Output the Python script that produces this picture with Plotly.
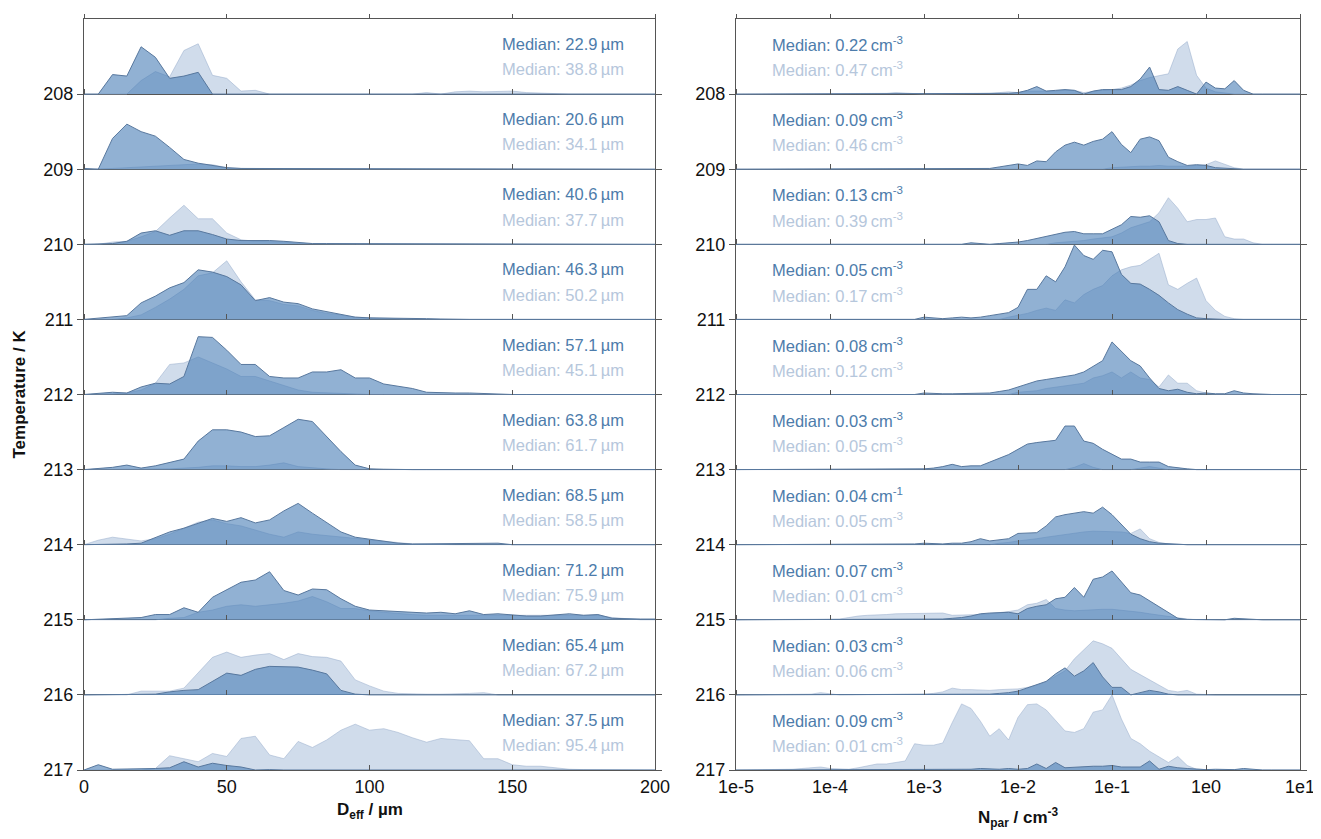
import plotly.graph_objects as go

# ---------------- data ----------------
temps = [208, 209, 210, 211, 212, 213, 214, 215, 216, 217]

D_um = [0, 5, 10, 15, 20, 25, 30, 35, 40, 45, 50, 55, 60, 65, 70, 75, 80, 85, 90, 95,
        100, 105, 110, 115, 120, 125, 130, 135, 140, 145, 150, 155, 160, 165, 170, 175,
        180, 185, 190, 195, 200]

N_exp = [-5.0, -4.9, -4.8, -4.7, -4.6, -4.5, -4.4, -4.3, -4.2, -4.1,
         -4.0, -3.9, -3.8, -3.7, -3.6, -3.5, -3.4, -3.3, -3.2, -3.1,
         -3.0, -2.9, -2.8, -2.7, -2.6, -2.5, -2.4, -2.3, -2.2, -2.1,
         -2.0, -1.9, -1.8, -1.7, -1.6, -1.5, -1.4, -1.3, -1.2, -1.1,
         -1.0, -0.9, -0.8, -0.7, -0.6, -0.5, -0.4, -0.3, -0.2, -0.1,
         0.0, 0.1, 0.2, 0.3, 0.4, 0.5, 0.6, 0.7, 0.8, 0.9, 1.0]

Z10 = [0] * 10

# Left panel (D_eff), relative density per temperature row
L208_dark = [0, 0, .26, .24, .63, .49, .21, .24, .29, 0] + Z10 + Z10 + Z10 + [0]
L208_light = [0, 0, 0, 0, .18, .30, .23, .58, .67, .25,
              .21, .04, .05, 0, 0, 0, 0, 0, 0, 0,
              .01, 0, .005, 0, .02, 0, .03, .04, .03, .03,
              .04, .02, .01, .005, 0, 0, 0, 0, 0, 0, 0]
L209_dark = [.01, 0, .41, .60, .50, .44, .29, .13, .08, .05,
             .02, .01, .01, .01, .01, 0, 0, 0, 0, 0,
             0, 0, 0, 0, 0, 0, 0, .01, 0, 0] + Z10 + [0]
L209_light = [0, 0, .01, .02, .03, .04, .05, .06, .07, .06,
              .02, .01, .005, .005, .005, 0, 0, 0, 0, 0] + Z10 + Z10 + [0]
L210_dark = [0, 0, .01, .04, .15, .18, .12, .18, .18, .13,
             .07, .05, .05, .05, .04, .02, .01, .01, .01, .005,
             .01, 0, .01, 0, 0, 0, 0, 0, 0, 0,
             0, 0, 0, 0, .01, 0, 0, 0, 0, 0, 0]
L210_light = [0, 0, .03, .04, .10, .17, .35, .52, .34, .34,
              .15, .06, .04, .04, .03, .01, .005, 0, 0, 0] + Z10 + Z10 + [0]
L211_dark = [0, .02, .03, .05, .22, .31, .42, .49, .66, .63,
             .57, .46, .25, .29, .23, .21, .14, .10, .07, .03,
             .02, .02, .02, .01, .01, .005, 0, 0, 0, 0] + Z10 + [0]
L211_light = [0, 0, 0, .02, .06, .16, .27, .40, .58, .62,
              .78, .50, .26, .25, .20, .18, .12, .08, .06, .03,
              .02, .01, .01, 0, 0, 0, 0, 0, 0, 0] + Z10 + [0]
L212_dark = [0, .02, .03, .02, .10, .15, .14, .24, .77, .76,
             .59, .40, .40, .24, .22, .22, .30, .30, .33, .22,
             .22, .14, .11, .08, .03, .02, .02, .02, .01, 0] + Z10 + [0]
L212_light = [0, 0, .01, .02, .06, .15, .40, .42, .50, .42,
              .34, .24, .24, .18, .12, .06, .03, .02, .01, 0] + Z10 + Z10 + [0]
L213_dark = [0, .01, .03, .06, .02, .05, .09, .14, .38, .53,
             .53, .50, .44, .45, .56, .67, .64, .44, .24, .06,
             .01, .005, 0, 0, 0, 0, 0, 0, 0, 0] + Z10 + [0]
L213_light = [0, 0, 0, 0, 0, 0, .01, .02, .03, .05,
              .05, .04, .04, .06, .09, .04, .02, .01, 0, 0] + Z10 + Z10 + [0]
L214_dark = [0, 0, 0, .01, .02, .10, .17, .22, .29, .35,
             .31, .36, .29, .33, .45, .55, .42, .30, .17, .10,
             .07, .05, .02, .01, .01, .01, .01, .01, .015, .02] + Z10 + [0]
L214_light = [0, .06, .10, .07, .05, .08, .14, .22, .30, .33,
              .28, .25, .19, .14, .10, .17, .14, .12, .10, .08,
              .06, .04, .02, .01, .005, 0, 0, 0, 0, 0] + Z10 + [0]
L215_dark = [0, .01, .02, .03, .03, .07, .07, .16, .10, .30,
             .40, .50, .53, .64, .39, .33, .41, .40, .28, .18,
             .13, .12, .11, .10, .09, .10, .08, .12, .07, .08,
             .06, .05, .05, .06, .08, .06, .07, .02, .01, .01, .01]
L215_light = [0, 0, 0, 0, 0, 0, .02, .03, .10, .13,
              .18, .20, .18, .20, .22, .25, .31, .24, .15, .15,
              .12, .10, .08, .07, .06, .06, .06, .06, .06, .06,
              .06, .06, .06, .06, .06, .06, .06, .03, .01, 0, 0]
L216_dark = [0, 0, 0, 0, 0, .01, .04, .06, .07, .18,
             .29, .26, .34, .38, .38, .37, .33, .28, .06, .01] + Z10 + Z10 + [0]
L216_light = [0, 0, 0, 0, .05, .05, .05, .09, .30, .50,
              .57, .50, .53, .55, .47, .55, .51, .50, .45, .20,
              .12, .05, .02, .01, .01, .01, .01, .02, .03, 0] + Z10 + [0]
L217_dark = [0, .07, .01, .01, .01, .02, .03, .11, .04, .09,
             .06, .04, 0, .005, 0, 0, 0, 0, 0, 0] + Z10 + Z10 + [0]
L217_light = [0, 0, 0, 0, 0, .02, .19, .15, .11, .22,
              .18, .42, .45, .20, .15, .38, .30, .40, .53, .61,
              .53, .55, .50, .43, .37, .42, .41, .39, .15, .15,
              .07, .05, .05, .03, .01, .005, .005, .005, 0, 0, 0]

# Right panel (N_par), relative density per temperature row
R208_dark = Z10 + [0, 0, 0, 0, 0, .01, .01, .01, .01, .01] + \
    [0, 0, 0, 0, 0, 0, .01, .01, .01, .01] + \
    [.02, .05, .10, .04, .05, .06, .05, 0, .04, .06] + \
    [.06, .06, .10, .20, .36, .06, .05, .10, .05, 0] + \
    [.16, .08, .07, .18, .05, 0, 0, 0, 0, 0] + [0]
R208_light = Z10 + [0, 0, 0, 0, 0, .01, .01, .02, .01, 0] + \
    [0, 0, 0, 0, 0, 0, .01, .01, .02, .03] + \
    [.02, .04, .04, .04, .04, .05, .05, .02, .04, .05] + \
    [.06, .08, .12, .18, .22, .25, .27, .60, .70, .25] + \
    [.08, .03, .01, 0, 0, 0, 0, 0, 0, 0] + [0]
R209_dark = Z10 + [0, 0, 0, 0, 0, 0, 0, 0, 0, .01] + \
    [.01, 0, 0, 0, 0, 0, 0, .01, .03, .05] + \
    [.07, .05, .11, .10, .23, .32, .36, .32, .37, .40] + \
    [.50, .33, .22, .40, .43, .38, .16, .10, .05, .06] + \
    [.05, .02, .01, 0, 0, 0, 0, 0, 0, 0] + [0]
R209_light = Z10 + Z10 + Z10 + Z10 + \
    [.02, .03, .03, .04, .04, .05, .04, .04, .04, .05] + \
    [.06, .11, .06, .02, 0, 0, 0, 0, 0, 0] + [0]
R210_dark = Z10 + [0, 0, 0, 0, 0, .01, .01, 0, 0, .005] + \
    [0, 0, 0, 0, 0, .02, .01, 0, .01, .02] + \
    [.03, .05, .08, .11, .14, .16, .17, .14, .14, .14] + \
    [.20, .26, .37, .36, .38, .30, .05, .01, 0, 0] + Z10 + [0]
R210_light = Z10 + Z10 + Z10 + \
    [0, 0, 0, 0, .02, .03, .04, .05, .07, .08] + \
    [.10, .15, .22, .26, .30, .42, .62, .48, .30, .33] + \
    [.33, .35, .10, .07, .07, .02, 0, 0, 0, 0] + [0]
R211_dark = Z10 + Z10 + \
    [.03, .02, .01, .02, .03, .02, .03, .05, .07, .09] + \
    [.16, .40, .40, .58, .50, .70, .99, .85, .80, .92] + \
    [.90, .60, .48, .47, .40, .32, .22, .13, .07, .02] + \
    [.01, 0, 0, 0, 0, 0, 0, 0, 0, 0] + [0]
R211_light = Z10 + Z10 + \
    [0, 0, 0, 0, 0, 0, 0, 0, 0, .03] + \
    [.05, .08, .12, .15, .12, .26, .22, .33, .40, .45] + \
    [.58, .66, .70, .72, .80, .88, .46, .40, .48, .55] + \
    [.25, .12, .04, .01, 0, 0, 0, 0, 0, 0] + [0]
R212_dark = Z10 + Z10 + \
    [.02, .01, .01, .01, .01, .01, .01, .02, .04, .06] + \
    [.10, .14, .18, .20, .22, .24, .26, .30, .38, .45] + \
    [.70, .58, .45, .38, .22, .08, .05, .07, .03, .01] + \
    [.02, .01, .01, .05, .02, .01, 0, 0, 0, 0] + [0]
R212_light = Z10 + Z10 + Z10 + \
    [.03, .04, .05, .08, .10, .12, .14, .15, .22, .25] + \
    [.30, .22, .30, .22, .20, .10, .26, .15, .15, .05] + \
    [.02, 0, 0, 0, 0, 0, 0, 0, 0, 0] + [0]
R213_dark = Z10 + [0, 0, 0, 0, 0, .005, 0, 0, 0, 0] + \
    [.01, .02, .04, .07, .04, .05, .05, .10, .15, .20] + \
    [.27, .34, .36, .37, .39, .58, .58, .38, .35, .27] + \
    [.21, .14, .14, .10, .10, .10, .04, .02, .01, 0] + \
    [0, 0, 0, 0, 0, 0, 0, .01, 0, 0] + [0]
R213_light = Z10 + Z10 + Z10 + \
    [0, 0, 0, 0, 0, 0, .03, .08, .03, 0] + \
    [0, 0, 0, .02, .04, .02, 0, 0, 0, 0] + Z10 + [0]
R214_dark = Z10 + [0, 0, 0, 0, 0, 0, .01, .01, .01, .01] + \
    [.02, .01, .01, .02, .02, .04, .08, .05, .06, .08] + \
    [.15, .15, .16, .25, .37, .40, .42, .44, .42, .50] + \
    [.40, .27, .14, .08, .04, .02, .01, 0, 0, 0] + Z10 + [0]
R214_light = Z10 + Z10 + \
    [0, 0, 0, 0, 0, 0, 0, 0, .02, .03] + \
    [.05, .06, .08, .10, .12, .13, .15, .17, .18, .18] + \
    [.18, .17, .15, .21, .08, .03, .01, 0, 0, 0] + Z10 + [0]
R215_dark = Z10 + Z10 + \
    [0, 0, .01, .02, .03, .05, .08, .09, .10, .10] + \
    [.08, .15, .18, .20, .28, .30, .43, .30, .54, .57] + \
    [.65, .50, .36, .33, .25, .18, .10, .02, .005, .005] + \
    [.005, 0, 0, .02, .01, 0, 0, 0, 0, 0] + [0]
R215_light = Z10 + \
    [.005, .01, .03, .05, .06, .06, .07, .08, .08, .08] + \
    [.08, .09, .09, .06, .06, .07, .07, .08, .09, .11] + \
    [.13, .20, .22, .27, .15, .13, .12, .13, .14, .14] + \
    [.14, .13, .12, .10, .08, .06, .04, .02, .01, 0] + Z10 + [0]
R216_dark = Z10 + Z10 + \
    [0, 0, 0, 0, 0, 0, .005, .01, .02, .03] + \
    [.05, .09, .13, .18, .28, .36, .25, .32, .43, .24] + \
    [.10, .10, 0, .03, .06, .04, .01, 0, 0, 0] + Z10 + [0]
R216_light = [0, 0, 0, 0, .005, .005, .01, 0, .01, .03] + \
    [.01, 0, 0, 0, .005, 0, 0, 0, 0, 0] + \
    [.01, .02, .04, .09, .07, .07, .06, .06, .07, .07] + \
    [.08, .10, .13, .18, .25, .32, .48, .60, .72, .68] + \
    [.62, .48, .34, .27, .20, .12, .06, .04, .06, .01] + Z10 + [0]
R217_dark = Z10 + Z10 + \
    [.01, .005, .005, .01, .01, .01, .02, .01, .01, .02] + \
    [.01, .02, .08, .02, .10, .03, .04, .04, .05, .05] + \
    [.06, .04, .04, .04, .12, .01, .05, .03, .02, .01] + \
    [.005, .01, .01, .005, .02, .005, 0, 0, 0, 0] + [0]
R217_light = [0, 0, 0, 0, 0, .005, .01, .02, .03, .04] + \
    [.02, .01, .01, .03, .06, .08, .08, .10, .12, .35] + \
    [.33, .33, .36, .63, .88, .82, .65, .45, .55, .40] + \
    [.70, .87, .88, .80, .66, .52, .50, .55, .77, .80] + \
    [1.0, .68, .42, .35, .25, .17, .10, .18, .06, .01] + Z10 + [0]

left_dark = [L208_dark, L209_dark, L210_dark, L211_dark, L212_dark,
             L213_dark, L214_dark, L215_dark, L216_dark, L217_dark]
left_light = [L208_light, L209_light, L210_light, L211_light, L212_light,
              L213_light, L214_light, L215_light, L216_light, L217_light]
right_dark = [R208_dark, R209_dark, R210_dark, R211_dark, R212_dark,
              R213_dark, R214_dark, R215_dark, R216_dark, R217_dark]
right_light = [R208_light, R209_light, R210_light, R211_light, R212_light,
               R213_light, R214_light, R215_light, R216_light, R217_light]

med_D_dark = ["22.9", "20.6", "40.6", "46.3", "57.1", "63.8", "68.5", "71.2", "65.4", "37.5"]
med_D_light = ["38.8", "34.1", "37.7", "50.2", "45.1", "61.7", "58.5", "75.9", "67.2", "95.4"]
med_N_dark = ["0.22", "0.09", "0.13", "0.05", "0.08", "0.03", "0.04", "0.07", "0.03", "0.09"]
med_N_dark_exp = ["-3", "-3", "-3", "-3", "-3", "-3", "-1", "-3", "-3", "-3"]
med_N_light = ["0.47", "0.46", "0.39", "0.17", "0.12", "0.05", "0.05", "0.01", "0.06", "0.01"]

D_ticks = [0, 50, 100, 150, 200]
N_ticks = [1e-5, 1e-4, 1e-3, 1e-2, 1e-1, 1e0, 1e1]
N_ticktext = ["1e-5", "1e-4", "1e-3", "1e-2", "1e-1", "1e0", "1e1"]

# ---------------- styling ----------------
DARK_FILL = "rgba(71,125,181,0.60)"
DARK_LINE = "rgb(88,120,158)"
LIGHT_FILL = "rgba(170,192,218,0.55)"
LIGHT_LINE = "rgba(150,172,202,0.65)"
DARK_TXT = "#4d7cab"
LIGHT_TXT = "#b6c7dc"
AX = "#555555"
FONT = "Arial, Liberation Sans, sans-serif"

N_cm3 = [10 ** e for e in N_exp]

fig = go.Figure()


def add_ridge(xv, vals, T, xa, ya, fill, line, lw):
    base = [T] * len(xv)
    fig.add_trace(go.Scatter(x=xv, y=base, mode="lines", line=dict(width=0, color="rgba(0,0,0,0)"),
                             xaxis=xa, yaxis=ya, hoverinfo="skip", showlegend=False))
    fig.add_trace(go.Scatter(x=xv, y=[T - v for v in vals], mode="lines",
                             line=dict(color=line, width=lw), fill="tonexty", fillcolor=fill,
                             xaxis=xa, yaxis=ya, showlegend=False))


for i, T in enumerate(temps):
    add_ridge(D_um, left_light[i], T, "x", "y", LIGHT_FILL, LIGHT_LINE, 0.8)
    add_ridge(D_um, left_dark[i], T, "x", "y", DARK_FILL, DARK_LINE, 1.0)
    add_ridge(N_cm3, right_light[i], T, "x2", "y2", LIGHT_FILL, LIGHT_LINE, 0.8)
    add_ridge(N_cm3, right_dark[i], T, "x2", "y2", DARK_FILL, DARK_LINE, 1.0)

# geometry (paper fractions)
W, H = 1321, 839
XL = [76 / W, 647 / W]
XR = [728 / W, 1292 / W]
Y0, Y1 = 1 - 762 / H, 1 - 11 / H
T_top, T_bot = temps[0] - 1, temps[-1]

tickfont = dict(family=FONT, size=18, color="#111111")
common_y = dict(range=[T_bot, T_top], tickvals=temps, ticks="outside", ticklen=6,
                tickcolor=AX, showgrid=True, gridcolor=AX, gridwidth=1, showline=True,
                linecolor=AX, linewidth=1, mirror="ticks", zeroline=False, tickfont=tickfont,
                domain=[Y0, Y1], automargin=False)

layout = dict(
    width=W, height=H, margin=dict(l=0, r=0, t=0, b=0, autoexpand=False),
    paper_bgcolor="white", plot_bgcolor="white", showlegend=False,
    font=dict(family=FONT),
    xaxis=dict(domain=XL, range=[0, 200], tickvals=D_ticks, ticks="inside", ticklen=5,
               tickcolor=AX, showline=True, linecolor=AX, linewidth=1, mirror=True,
               showgrid=False, zeroline=False, tickfont=tickfont, anchor="y", automargin=False),
    yaxis=dict(anchor="x", **common_y),
    xaxis2=dict(domain=XR, type="log", range=[-5, 1], tickvals=N_ticks, ticktext=N_ticktext,
                ticks="inside", ticklen=5, tickcolor=AX, showline=True, linecolor=AX,
                linewidth=1, mirror=True, showgrid=False, zeroline=False,
                tickfont=tickfont, anchor="y2", automargin=False),
    yaxis2=dict(anchor="x2", **common_y),
)

# upward tick marks on every baseline (incl. the top frame line)
n = 3
for T in range(T_top, T_bot):
    pos = Y0 + (T_bot - T) / (T_bot - T_top) * (Y1 - Y0)
    for main, extra in (("x", dict(range=[0, 200], tickvals=D_ticks)),
                        ("x2", dict(type="log", range=[-5, 1], tickvals=N_ticks))):
        name = "xaxis%d" % n
        layout[name] = dict(overlaying=main, anchor="free", position=pos, side="top",
                            ticks="outside", ticklen=5, tickcolor=AX, showticklabels=False,
                            showline=False, showgrid=False, zeroline=False,
                            automargin=False, **extra)
        fig.add_trace(go.Scatter(x=[], y=[], xaxis="x%d" % n,
                                 yaxis="y" if main == "x" else "y2",
                                 showlegend=False, hoverinfo="skip"))
        n += 1

fig.update_layout(**layout)

# median labels
MED_SIZE = 16.5
ann = []
for i, T in enumerate(temps):
    ann.append(dict(x=190, y=T - 0.665, xref="x", yref="y", xanchor="right", yanchor="middle",
                    text="Median: %s\u2009µm" % med_D_dark[i], showarrow=False,
                    font=dict(family=FONT, size=MED_SIZE, color=DARK_TXT)))
    ann.append(dict(x=190, y=T - 0.33, xref="x", yref="y", xanchor="right", yanchor="middle",
                    text="Median: %s\u2009µm" % med_D_light[i], showarrow=False,
                    font=dict(family=FONT, size=MED_SIZE, color=LIGHT_TXT)))
    ann.append(dict(x=-4.64, y=T - 0.665, xref="x2", yref="y2", xanchor="left", yanchor="middle",
                    text="Median: %s\u2009cm<sup>%s</sup>" % (med_N_dark[i], med_N_dark_exp[i]),
                    showarrow=False, font=dict(family=FONT, size=MED_SIZE, color=DARK_TXT)))
    ann.append(dict(x=-4.64, y=T - 0.33, xref="x2", yref="y2", xanchor="left", yanchor="middle",
                    text="Median: %s\u2009cm<sup>-3</sup>" % med_N_light[i],
                    showarrow=False, font=dict(family=FONT, size=MED_SIZE, color=LIGHT_TXT)))

ann.append(dict(x=11 / W, y=(Y0 + Y1) / 2, xref="paper", yref="paper", textangle=-90,
                text="<b>Temperature / K</b>", showarrow=False, xanchor="center", yanchor="middle",
                font=dict(family=FONT, size=17, color="#111111")))
ann.append(dict(x=(XL[0] + XL[1]) / 2, y=1 - 803 / H, xref="paper", yref="paper",
                text="<b>D<sub>eff</sub> / µm</b>", showarrow=False, xanchor="center",
                yanchor="middle", font=dict(family=FONT, size=17, color="#111111")))
ann.append(dict(x=(XR[0] + XR[1]) / 2, y=1 - 809 / H, xref="paper", yref="paper",
                text="<b>N<sub>par</sub> / cm<sup>-3</sup></b>", showarrow=False, xanchor="center",
                yanchor="middle", font=dict(family=FONT, size=17, color="#111111")))
fig.update_layout(annotations=ann)

fig.write_html("out.html")
